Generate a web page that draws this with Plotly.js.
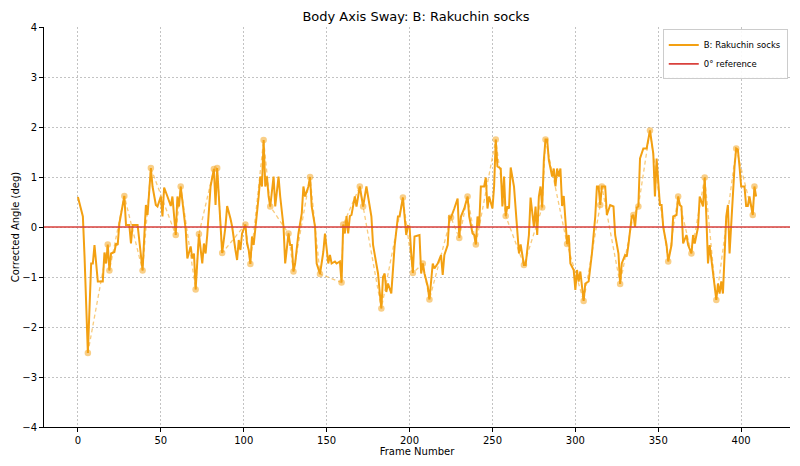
<!DOCTYPE html>
<html>
<head>
<meta charset="utf-8">
<script src="https://cdn.plot.ly/plotly-3.0.1.min.js"></script>
<style>
  body { margin: 0; background: #fff; }
  #graph { width: 800px; height: 466px; }
</style>
</head>
<body>
<div id="graph"></div>
<script>
// sway trace (frame, corrected angle)
var frames = [0,3,4,5,6,8,9,10,12,15,16,17,18,19,20,22,23,24,25,28,29,31,32,33,36,39,41,42,44,45,47,48,50,51,52,54,56,57,58,59,60,61,62,64,65,66,68,69,70,71,73,75,76,77,78,80,82,83,84,85,87,89,90,92,93,95,96,97,98,99,101,102,103,104,105,106,107,109,110,111,112,113,114,115,116,118,119,121,122,124,125,127,128,129,130,131,133,135,136,137,139,140,141,143,144,146,148,149,151,152,153,155,156,158,159,160,161,162,163,164,165,167,168,170,172,174,175,177,178,179,181,182,183,184,185,186,187,189,190,191,193,194,196,197,198,199,200,201,202,203,205,206,207,208,209,211,212,213,214,215,217,219,220,221,223,224,225,227,229,230,231,233,235,236,238,239,240,241,242,243,245,246,247,248,250,251,252,253,255,256,257,258,259,260,261,263,264,265,266,267,269,270,272,273,275,276,277,278,279,280,281,282,283,284,286,287,288,289,290,291,292,293,295,296,297,299,300,301,302,303,304,305,306,308,310,312,313,314,315,316,318,319,321,323,324,326,327,328,330,331,332,333,334,335,336,337,338,339,341,343,345,347,348,349,350,351,352,353,355,356,358,359,361,362,363,364,365,367,368,370,371,372,374,375,377,378,379,380,381,383,384,385,386,387,388,389,391,392,393,395,396,397,398,399,400,402,403,404,405,407,408,409];
var angles = [0.60,0.21,-0.59,-1.53,-2.52,-0.73,-0.73,-0.36,-1.09,-1.09,-0.51,-0.73,-0.35,-0.87,-0.53,-0.50,-0.33,-0.36,0.07,0.62,0.04,0.04,-0.33,0.04,0.04,-0.87,0.44,0.24,1.18,0.81,0.44,0.41,0.61,0.21,0.79,0.61,0.42,0.61,0.21,-0.16,0.61,0.41,0.81,0.23,-0.05,-0.63,-0.39,-0.63,-0.53,-1.25,-0.14,-0.73,-0.33,-0.53,-0.16,0.81,1.16,0.44,1.18,0.61,-0.52,0.01,0.42,0.17,0.01,-0.46,-0.66,-0.26,-0.46,-0.13,0.05,-0.33,-0.46,-0.74,-0.19,-0.36,-0.07,0.61,1.01,0.81,1.74,0.81,1.01,0.61,0.41,1.01,0.41,1.01,0.61,0.01,-0.73,-0.13,-0.36,-0.36,-0.89,-0.73,-0.13,0.27,0.81,0.61,0.81,1.00,0.41,0.01,-0.73,-0.94,-0.50,-0.13,-0.73,-0.56,-0.73,-0.69,-0.73,-0.69,-1.11,0.05,-0.13,0.22,-0.13,0.22,0.24,0.61,0.41,0.81,0.41,0.81,0.61,0.21,-0.36,-0.53,-0.93,-1.30,-1.63,-1.00,-0.93,-1.30,-1.13,-1.33,-0.76,-0.38,0.21,0.21,0.59,0.21,-0.16,0.02,0.01,-0.53,-0.92,-0.19,-0.16,-0.16,-0.93,-0.73,-0.93,-1.19,-1.45,-0.99,-0.73,-0.83,-0.73,-0.56,-0.96,-0.56,-0.36,0.21,0.19,0.37,0.57,-0.22,0.21,0.37,0.61,0.21,-0.13,-0.16,-0.35,0.21,0.02,0.81,0.81,0.99,0.37,0.61,0.37,0.81,1.75,1.21,1.17,0.41,1.01,0.22,0.41,0.37,1.19,0.81,0.37,0.00,-0.53,-0.35,-0.76,-0.76,-0.16,0.59,0.00,0.41,-0.16,0.61,0.81,0.39,1.34,1.75,1.75,1.34,1.01,1.17,0.81,1.17,1.01,1.17,0.42,0.62,-0.34,-0.16,-0.73,-0.86,-1.26,-0.86,-1.09,-0.89,-1.26,-1.48,-1.13,-1.09,-0.53,0.21,0.81,0.81,0.44,0.81,0.81,0.24,0.44,0.41,-0.16,-0.53,-1.14,-0.73,-0.56,-0.59,-0.36,0.00,0.21,0.24,0.00,0.39,0.41,1.37,1.57,1.57,1.93,1.47,0.61,1.37,0.81,0.44,0.44,0.00,-0.36,-0.69,-0.36,0.21,0.24,0.61,0.44,0.41,-0.33,-0.16,-0.36,-0.53,-0.16,-0.33,0.00,0.61,0.41,0.99,0.21,-0.73,-0.36,-0.91,-1.13,-1.46,-1.13,-1.33,-1.09,-1.33,0.21,0.44,-0.53,0.81,1.21,1.57,1.55,1.21,0.81,0.81,0.42,0.42,0.61,0.24,0.81,0.61];

// local peaks / troughs marked in the reference
var peakFrames = [6,18,19,28,39,44,59,62,71,73,82,84,87,101,104,112,116,127,130,140,146,159,160,170,172,183,196,202,208,212,225,230,235,240,252,258,269,280,282,295,305,315,316,327,335,338,345,356,362,370,378,385,397,407,408];
var peakAngles = [-2.52,-0.35,-0.87,0.62,-0.87,1.18,-0.16,0.81,-1.25,-0.14,1.16,1.18,-0.52,0.05,-0.74,1.74,0.41,-0.13,-0.89,1.00,-0.94,-1.11,0.05,0.81,0.41,-1.63,0.59,-0.92,-0.73,-1.45,0.19,-0.22,0.61,-0.35,1.75,0.22,-0.76,0.39,1.75,-0.34,-1.48,0.44,0.81,-1.14,0.24,0.41,1.93,-0.69,0.61,-0.53,0.99,-1.46,1.57,0.24,0.81];

var refAngle = 0;
var yTicks = [-4,-3,-2,-1,0,1,2,3,4];
var xTicks = [0,50,100,150,200,250,300,350,400];

var lastFrame = frames[frames.length - 1];
var pad = 0.05 * (lastFrame - frames[0]);
var xRange = [frames[0] - pad, lastFrame + pad];

var swayColor = '#f3a012';

var sway = {
  x: frames,
  y: angles,
  type: 'scatter',
  mode: 'lines',
  name: 'B: Rakuchin socks',
  line: { color: swayColor, width: 2 }
};

var peaks = {
  x: peakFrames,
  y: peakAngles,
  type: 'scatter',
  mode: 'lines+markers',
  showlegend: false,
  hoverinfo: 'skip',
  line: { color: 'rgba(243,160,18,0.55)', width: 1.3, dash: '4px,3px' },
  marker: { color: 'rgba(243,160,18,0.5)', size: 6.5 }
};

var reference = {
  x: xRange,
  y: [refAngle, refAngle],
  type: 'scatter',
  mode: 'lines',
  name: '0° reference',
  line: { color: '#d9413c', width: 1.6 }
};

var axisStyle = {
  showline: true,
  linecolor: '#000',
  linewidth: 1,
  mirror: false,
  ticks: 'outside',
  ticklen: 4,
  tickcolor: '#000',
  showgrid: true,
  gridcolor: '#bdbdbd',
  gridwidth: 0.9,
  griddash: '2px,2px',
  zeroline: false,
  tickfont: { size: 10, color: '#000' }
};

var layout = {
  width: 800,
  height: 466,
  margin: { l: 44, r: 10, t: 27, b: 39 },
  paper_bgcolor: '#fff',
  plot_bgcolor: '#fff',
  font: { family: 'DejaVu Sans, sans-serif', color: '#000' },
  title: {
    text: 'Body Axis Sway: B: Rakuchin socks',
    font: { size: 13 },
    x: 0.52,
    xanchor: 'center',
    y: 0.965,
    yanchor: 'middle'
  },
  xaxis: Object.assign({}, axisStyle, {
    range: xRange,
    tickvals: xTicks,
    title: { text: 'Frame Number', font: { size: 10 }, standoff: 0 }
  }),
  yaxis: Object.assign({}, axisStyle, {
    range: [-4, 4],
    tickvals: yTicks,
    title: { text: 'Corrected Angle (deg)', font: { size: 10 }, standoff: 0 }
  }),
  legend: {
    x: 0.997,
    y: 0.994,
    xanchor: 'right',
    yanchor: 'top',
    bgcolor: 'rgba(255,255,255,0.9)',
    bordercolor: '#cccccc',
    borderwidth: 1,
    font: { size: 8.5 },
    itemwidth: 30,
    tracegroupgap: 0
  },
  showlegend: true
};

Plotly.newPlot('graph', [sway, peaks, reference], layout, { displayModeBar: false, staticPlot: true });
</script>
</body>
</html>
